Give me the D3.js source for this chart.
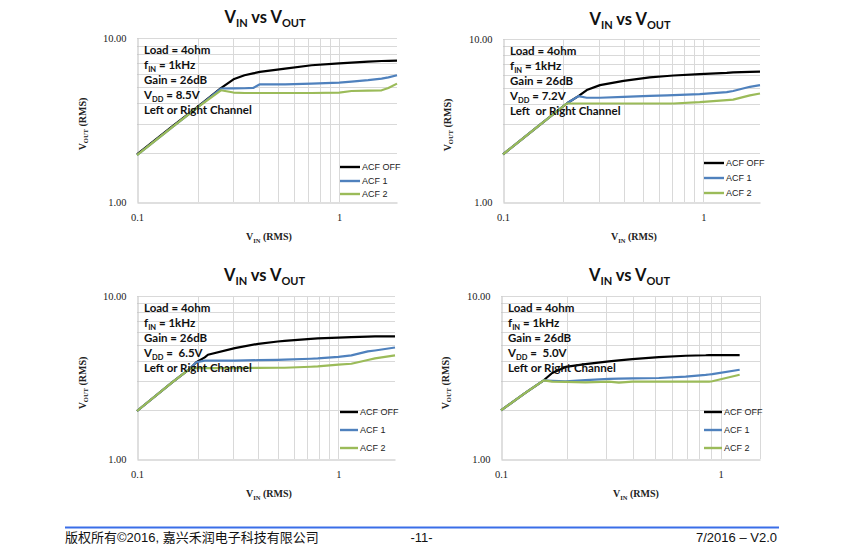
<!DOCTYPE html>
<html><head><meta charset="utf-8">
<script src="https://cdn.jsdelivr.net/npm/d3@7"></script>
<style>
body{margin:0;background:#fff;}
svg{display:block;}
text{white-space:pre;}
</style></head><body>
<svg id="c" width="850" height="555"></svg>
<script>
// ---------- DATA ----------
const seriesNames = ["ACF OFF", "ACF 1", "ACF 2"];
const xTickVals = [0.1, 1];
const xTickLabels = ["0.1", "1"];
const yTickVals = [1, 10];
const yTickLabels = ["1.00", "10.00"];
const xGridVals = [0.2, 0.3, 0.4, 0.5, 0.6, 0.7, 0.8, 0.9, 1];
const yGridVals = [2, 3, 4, 5, 6, 7, 8, 9, 10];

// VDD = 8.5V
const vin85  = [0.1, 0.15, 0.2, 0.26, 0.3, 0.34, 0.375, 0.405, 0.54, 0.73, 1.0, 1.15, 1.39, 1.62, 1.75, 1.93];
const off85  = [1.95, 2.9, 3.82, 4.95, 5.6, 5.93, 6.08, 6.21, 6.51, 6.82, 7.01, 7.08, 7.18, 7.24, 7.26, 7.28];
const acf1_85 = [1.93, 2.87, 3.79, 4.92, 4.93, 4.94, 4.96, 5.22, 5.22, 5.27, 5.35, 5.42, 5.53, 5.65, 5.75, 5.93];
const acf2_85 = [1.93, 2.87, 3.79, 4.80, 4.65, 4.62, 4.62, 4.62, 4.62, 4.62, 4.65, 4.75, 4.78, 4.80, 4.96, 5.27];

// VDD = 7.2V
const vin72  = [0.1, 0.15, 0.208, 0.238, 0.262, 0.305, 0.4, 0.54, 0.66, 0.71, 0.96, 1.31, 1.41, 1.71, 1.92];
const off72  = [1.96, 2.92, 4.02, 4.46, 4.86, 5.21, 5.54, 5.81, 5.93, 5.97, 6.09, 6.20, 6.24, 6.28, 6.30];
const acf1_72 = [1.96, 2.92, 4.02, 4.46, 4.36, 4.36, 4.42, 4.48, 4.51, 4.52, 4.59, 4.72, 4.80, 5.09, 5.21];
const acf2_72 = [1.96, 2.92, 4.02, 4.02, 4.02, 4.02, 4.02, 4.02, 4.02, 4.02, 4.10, 4.22, 4.25, 4.51, 4.63];

// VDD = 6.5V
const vin65  = [0.1, 0.15, 0.184, 0.197, 0.217, 0.225, 0.306, 0.4, 0.5, 0.54, 0.73, 0.79, 1.0, 1.16, 1.4, 1.52, 1.91];
const off65  = [1.97, 2.96, 3.6, 3.92, 4.2, 4.36, 4.79, 5.09, 5.26, 5.30, 5.46, 5.49, 5.56, 5.60, 5.64, 5.65, 5.66];
const acf1_65 = [1.97, 2.96, 3.6, 3.92, 4.01, 4.01, 4.01, 4.04, 4.06, 4.07, 4.12, 4.14, 4.23, 4.32, 4.57, 4.63, 4.83];
const acf2_65 = [1.97, 2.96, 3.6, 3.61, 3.61, 3.61, 3.61, 3.62, 3.63, 3.63, 3.68, 3.70, 3.79, 3.84, 4.05, 4.14, 4.32];

// VDD = 5.0V
const vin50  = [0.1, 0.13, 0.1565, 0.171, 0.197, 0.242, 0.31, 0.344, 0.396, 0.523, 0.693, 0.855, 0.885, 0.916, 1.22];
const off50  = [1.99, 2.56, 3.04, 3.37, 3.67, 3.82, 3.97, 4.03, 4.10, 4.22, 4.30, 4.33, 4.34, 4.34, 4.34];
const acf1_50 = [1.99, 2.56, 3.04, 3.02, 3.00, 3.05, 3.10, 3.11, 3.12, 3.14, 3.20, 3.28, 3.30, 3.32, 3.53];
const acf2_50 = [1.99, 2.56, 3.04, 2.98, 2.97, 2.95, 2.98, 2.94, 2.98, 2.98, 2.98, 2.98, 2.98, 3.00, 3.29];

const vddLabels = ["8.5V", "7.2V", " 6.5V", " 5.0V"];
const channelLabels = ["Left or Right Channel", "Left  or Right Channel", "Left or Right Channel", "Left or Right Channel"];
const xMaxVals = [1.93, 1.92, 1.91, 1.51];

// ---------- LAYOUT ----------
const layouts = [
  {left:137, right:397, top:38, bottom:202, titleX:265, titleY:22.5, yTitleX:80, yTitleY:124, xTitleX:269, xTitleY:240, legX:340, legLen:20, legY:[167,181,194], border:false},
  {left:503, right:760, top:39, bottom:202, titleX:630, titleY:24.5, yTitleX:445, yTitleY:125, xTitleX:634, xTitleY:240, legX:704, legLen:20, legY:[163,178,193], border:false},
  {left:137, right:395, top:296, bottom:459, titleX:264.5, titleY:280.5, yTitleX:80, yTitleY:383, xTitleX:269, xTitleY:497, legX:340, legLen:18, legY:[412,430,448], border:false},
  {left:501, right:760, top:296, bottom:459, titleX:629.5, titleY:280.5, yTitleX:443, yTitleY:383, xTitleX:636, xTitleY:497, legX:704, legLen:18, legY:[412,430,448], border:true}
];
const dataSets = [
  {vin: vin85, s: [off85, acf1_85, acf2_85]},
  {vin: vin72, s: [off72, acf1_72, acf2_72]},
  {vin: vin65, s: [off65, acf1_65, acf2_65]},
  {vin: vin50, s: [off50, acf1_50, acf2_50]}
];
const colors = ["#000000", "#4f81bd", "#9bbb59"];
const gridColor = "#d9d9d9";
const axisColor = "#bfbfbf";
const sansBold = "Lato, 'Liberation Sans', sans-serif";
const serif = "'Liberation Serif', 'DejaVu Serif', serif";

const svg = d3.select("#c");

function subText(sel, parts, baseSize, subSize) {
  // parts: array of [text, isSub]
  let prevSub = false;
  parts.forEach(([t, sub]) => {
    const ts = sel.append("tspan").text(t).attr("font-size", sub ? subSize : baseSize);
    if (sub && !prevSub) ts.attr("dy", baseSize * 0.28);
    if (!sub && prevSub) ts.attr("dy", -baseSize * 0.28);
    prevSub = sub;
  });
}

dataSets.forEach((ds, ci) => {
  const L = layouts[ci];
  const x = d3.scaleLog().domain([0.1, xMaxVals[ci]]).range([L.left, L.right]);
  const y = d3.scaleLog().domain([1, 10]).range([L.bottom, L.top]);
  const g = svg.append("g");

  // grid
  g.selectAll("line.vg").data(xGridVals.filter(v => v <= xMaxVals[ci])).join("line")
    .attr("x1", d => Math.round(x(d)) + 0.5).attr("x2", d => Math.round(x(d)) + 0.5)
    .attr("y1", L.top).attr("y2", L.bottom)
    .attr("stroke", gridColor).attr("stroke-width", 1);
  g.selectAll("line.hg").data(yGridVals).join("line")
    .attr("x1", L.left).attr("x2", L.right)
    .attr("y1", d => Math.round(y(d)) + 0.5).attr("y2", d => Math.round(y(d)) + 0.5)
    .attr("stroke", gridColor).attr("stroke-width", 1);
  if (L.border) {
    g.append("line").attr("x1", L.right + 0.5).attr("x2", L.right + 0.5)
      .attr("y1", L.top).attr("y2", L.bottom).attr("stroke", gridColor);
  }

  // axes
  const xAxis = d3.axisBottom(x).tickValues(xTickVals).tickSize(0).tickPadding(11)
    .tickFormat((d, i) => xTickLabels[i]);
  const yAxis = d3.axisLeft(y).tickValues(yTickVals).tickSize(0).tickPadding(11)
    .tickFormat((d, i) => yTickLabels[i]);
  const gx = g.append("g").attr("transform", `translate(0,${Math.round(L.bottom) + 0.5})`).call(xAxis);
  const gy = g.append("g").attr("transform", `translate(${Math.round(L.left) + 0.5},0)`).call(yAxis);
  [gx, gy].forEach(a => {
    a.select(".domain").attr("stroke", axisColor);
    a.selectAll("text").attr("font-family", serif).attr("font-size", 10.5).attr("fill", "#222");
  });

  // series lines
  const line = d3.line().x(d => x(d[0])).y(d => y(d[1]));
  ds.s.forEach((vals, si) => {
    const pts = ds.vin.map((v, k) => [v, vals[k]]);
    g.append("path").datum(pts).attr("d", line)
      .attr("fill", "none").attr("stroke", colors[si]).attr("stroke-width", 2.2)
      .attr("stroke-linejoin", "round");
  });

  // annotation
  const ann = g.append("text").attr("font-family", sansBold).attr("font-weight", "bold")
    .attr("font-size", 11.5).attr("fill", "#111");
  const ax = L.left + 7, ay = L.top + 16, step = 15;
  const lines = [
    [["Load = 4ohm", false]],
    [["f", false], ["IN", true], [" = 1kHz", false]],
    [["Gain = 26dB", false]],
    [["V", false], ["DD", true], [" = " + vddLabels[ci], false]],
    [[channelLabels[ci], false]]
  ];
  lines.forEach((parts, li) => {
    const t = g.append("text").attr("x", ax).attr("y", ay + li * step)
      .attr("font-family", sansBold).attr("font-weight", "bold")
      .attr("font-size", 11.5).attr("fill", "#111");
    subText(t, parts, 11.5, 7.5);
  });

  // legend
  seriesNames.forEach((nm, si) => {
    g.append("line").attr("x1", L.legX).attr("x2", L.legX + L.legLen)
      .attr("y1", L.legY[si]).attr("y2", L.legY[si])
      .attr("stroke", colors[si]).attr("stroke-width", 2.4);
    g.append("text").attr("x", L.legX + L.legLen + 2).attr("y", L.legY[si]).attr("dy", "0.35em")
      .attr("font-family", "'Liberation Sans', Arial, sans-serif").attr("font-size", 9)
      .attr("fill", "#222").text(nm);
  });

  // title
  const tt = g.append("text").attr("x", L.titleX).attr("y", L.titleY).attr("text-anchor", "middle")
    .attr("font-family", sansBold).attr("font-weight", "bold").attr("fill", "#111");
  subText(tt, [["V", false], ["IN", true], [" vs V", false], ["OUT", true]], 16.5, 11);

  // axis titles
  const xt = g.append("text").attr("x", L.xTitleX).attr("y", L.xTitleY).attr("text-anchor", "middle")
    .attr("font-family", serif).attr("font-weight", "bold").attr("fill", "#222");
  subText(xt, [["V", false], ["IN", true], [" (RMS)", false]], 10, 6.5);
  const yt = g.append("text").attr("transform", `translate(${L.yTitleX},${L.yTitleY}) rotate(-90)`)
    .attr("text-anchor", "middle").attr("dy", "0.35em")
    .attr("font-family", serif).attr("font-weight", "bold").attr("fill", "#222");
  subText(yt, [["V", false], ["OUT", true], [" (RMS)", false]], 10, 6.5);
});

// footer
svg.append("line").attr("x1", 65).attr("x2", 779).attr("y1", 527.5).attr("y2", 527.5)
  .attr("stroke", "#3a6ee8").attr("stroke-width", 2);
const footFont = "'Liberation Sans', Arial, 'Noto Sans CJK SC', sans-serif";
svg.append("text").attr("x", 65).attr("y", 542).attr("font-family", footFont).attr("font-size", 13)
  .attr("fill", "#111").text("版权所有©2016, 嘉兴禾润电子科技有限公司");
svg.append("text").attr("x", 421.5).attr("y", 542).attr("text-anchor", "middle").attr("font-family", footFont)
  .attr("font-size", 13).attr("fill", "#111").text("-11-");
svg.append("text").attr("x", 777).attr("y", 542).attr("text-anchor", "end").attr("font-family", footFont)
  .attr("font-size", 13).attr("fill", "#111").text("7/2016 – V2.0");
</script>
</body></html>
